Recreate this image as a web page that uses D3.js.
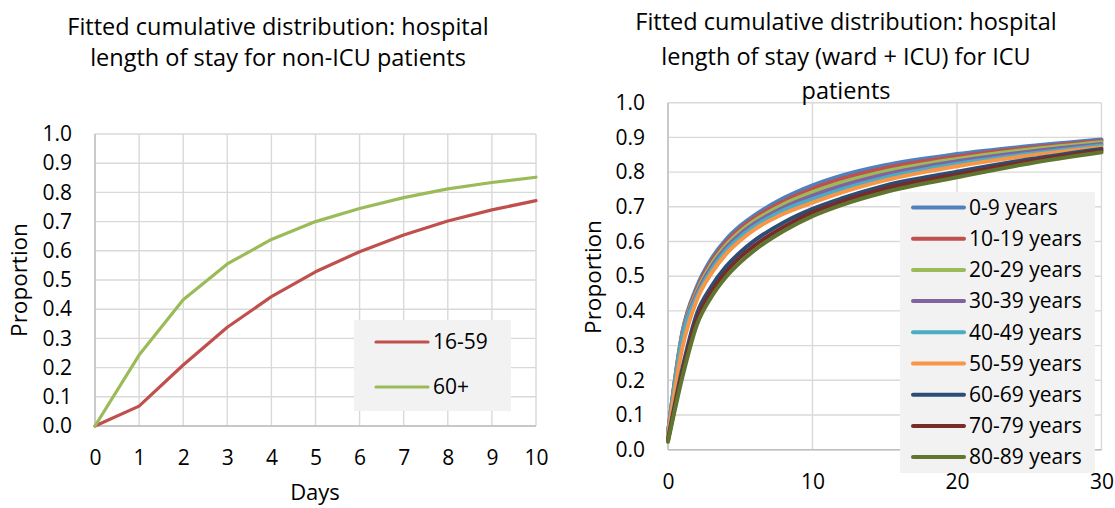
<!DOCTYPE html>
<html>
<head>
<meta charset="utf-8">
<script src="https://cdn.jsdelivr.net/npm/d3@7"></script>
<style>
    body { margin: 0; background: #fff; }
    svg text { font-family: "Open Sans", sans-serif; fill: #000; }
</style>
</head>
<body>
<svg id="chart" width="1115" height="508"></svg>
<script>
// Left chart: non-ICU length of stay
var leftDays = [0, 1, 2, 3, 4, 5, 6, 7, 8, 9, 10];
var leftGroups = ["16-59", "60+"];
var los16to59 = [0, 0.068, 0.209, 0.338, 0.443, 0.528, 0.597, 0.654, 0.702, 0.740, 0.772];
var los60plus = [0, 0.243, 0.432, 0.555, 0.639, 0.700, 0.745, 0.782, 0.812, 0.834, 0.852];
var leftColors = ["#c0504d", "#9bbb59"];

// Right chart: ICU patients, ward + ICU
var rightDays = [0, 1, 2, 3, 4, 5, 6, 8, 10, 12, 15, 20, 25, 30];
var rightXTicks = [0, 10, 20, 30];
var ageGroups = ["0-9 years", "10-19 years", "20-29 years", "30-39 years", "40-49 years",
                 "50-59 years", "60-69 years", "70-79 years", "80-89 years"];
var age0to9   = [0.050, 0.340, 0.470, 0.550, 0.605, 0.645, 0.676, 0.725, 0.762, 0.790, 0.820, 0.852, 0.875, 0.894];
var age10to19 = [0.048, 0.337, 0.463, 0.542, 0.597, 0.637, 0.668, 0.716, 0.752, 0.780, 0.811, 0.845, 0.870, 0.890];
var age20to29 = [0.046, 0.334, 0.456, 0.534, 0.589, 0.629, 0.660, 0.707, 0.742, 0.770, 0.802, 0.838, 0.865, 0.886];
var age30to39 = [0.044, 0.330, 0.449, 0.526, 0.581, 0.621, 0.652, 0.698, 0.732, 0.760, 0.793, 0.831, 0.859, 0.881];
var age40to49 = [0.042, 0.325, 0.442, 0.518, 0.573, 0.613, 0.644, 0.690, 0.722, 0.750, 0.784, 0.824, 0.853, 0.877];
var age50to59 = [0.040, 0.295, 0.432, 0.508, 0.563, 0.603, 0.635, 0.680, 0.712, 0.741, 0.776, 0.817, 0.848, 0.872];
var age60to69 = [0.030, 0.235, 0.392, 0.470, 0.527, 0.569, 0.603, 0.655, 0.694, 0.724, 0.761, 0.801, 0.837, 0.867];
var age70to79 = [0.027, 0.222, 0.376, 0.455, 0.512, 0.555, 0.589, 0.642, 0.684, 0.715, 0.752, 0.793, 0.831, 0.862];
var age80to89 = [0.023, 0.210, 0.360, 0.440, 0.497, 0.540, 0.575, 0.630, 0.673, 0.705, 0.742, 0.785, 0.825, 0.857];
var ageColors = ["#4f81bd", "#c0504d", "#9bbb59", "#8064a2", "#4bacc6",
                 "#f79646", "#2c4d75", "#772c2a", "#5f7530"];

var yTicks = [0, 0.1, 0.2, 0.3, 0.4, 0.5, 0.6, 0.7, 0.8, 0.9, 1.0];

var svg = d3.select("#chart");

function drawPanel(p) {
    var x = d3.scaleLinear().domain(p.xDomain).range(p.xRange);
    var y = d3.scaleLinear().domain([0, 1]).range(p.yRange);
    var g = svg.append("g");

    // grid
    g.selectAll(".hgrid").data(yTicks).enter().append("line")
        .attr("x1", p.xRange[0]).attr("x2", p.xRange[1])
        .attr("y1", d => y(d)).attr("y2", d => y(d))
        .attr("stroke", "#d9d9d9").attr("stroke-width", 1.4);
    g.selectAll(".vgrid").data(p.xTicks).enter().append("line")
        .attr("x1", d => x(d)).attr("x2", d => x(d))
        .attr("y1", p.yRange[0]).attr("y2", p.yRange[1])
        .attr("stroke", "#d9d9d9").attr("stroke-width", 1.4);

    // axis lines
    g.append("line")
        .attr("x1", p.xRange[0]).attr("x2", p.xRange[1])
        .attr("y1", p.yRange[0]).attr("y2", p.yRange[0])
        .attr("stroke", "#bfbfbf").attr("stroke-width", 1.4);
    g.append("line")
        .attr("x1", p.xRange[0]).attr("x2", p.xRange[0])
        .attr("y1", p.yRange[0]).attr("y2", p.yRange[1])
        .attr("stroke", "#bfbfbf").attr("stroke-width", 1.4);

    // tick labels
    var xAxis = g.append("g")
        .attr("transform", "translate(0," + p.yRange[0] + ")")
        .call(d3.axisBottom(x).tickValues(p.xTicks).tickSize(0).tickPadding(24).tickFormat(d3.format("d")));
    var yAxis = g.append("g")
        .attr("transform", "translate(" + p.xRange[0] + ",0)")
        .call(d3.axisLeft(y).tickValues(yTicks).tickSize(0).tickPadding(23).tickFormat(d3.format(".1f")));
    [xAxis, yAxis].forEach(function(a) {
        a.select(".domain").remove();
        a.selectAll("text").style("font-size", "21px").style("font-family", "Open Sans").attr("fill", "#000");
    });

    // series
    var line = d3.line()
        .x((d, i) => x(p.days[i]))
        .y(d => y(d))
        .curve(p.curve);
    g.selectAll(".series").data(p.series).enter().append("path")
        .attr("d", d => line(d))
        .attr("fill", "none")
        .attr("stroke", (d, i) => p.colors[i])
        .attr("stroke-width", p.lineWidth)
        .attr("stroke-linejoin", "round")
        .attr("stroke-linecap", "round");

    // legend
    var lg = g.append("g");
    lg.append("rect")
        .attr("x", p.legend.x).attr("y", p.legend.y)
        .attr("width", p.legend.w).attr("height", p.legend.h)
        .attr("fill", "#f2f2f2");
    var item = lg.selectAll(".item").data(p.names).enter().append("g")
        .attr("transform", (d, i) => "translate(0," + (p.legend.first + i * p.legend.step) + ")");
    item.append("line")
        .attr("x1", p.legend.lx1).attr("x2", p.legend.lx2)
        .attr("stroke", (d, i) => p.colors[i])
        .attr("stroke-width", p.lineWidth)
        .attr("stroke-linecap", "round");
    item.append("text")
        .attr("x", p.legend.tx)
        .attr("dy", ".35em")
        .style("font-size", "21px")
        .text(d => d);

    // titles
    g.selectAll(".title").data(p.title).enter().append("text")
        .attr("x", p.titleX)
        .attr("y", (d, i) => p.titleY[i])
        .attr("dy", ".35em")
        .attr("text-anchor", "middle")
        .style("font-size", "23.5px")
        .text(d => d);

    g.append("text")
        .attr("transform", "translate(" + p.yLabel[0] + "," + p.yLabel[1] + ") rotate(-90)")
        .attr("dy", ".35em")
        .attr("text-anchor", "middle")
        .style("font-size", "22.5px")
        .text("Proportion");

    if (p.xLabel) {
        g.append("text")
            .attr("x", p.xLabel[0]).attr("y", p.xLabel[1])
            .attr("dy", ".35em")
            .attr("text-anchor", "middle")
            .style("font-size", "22px")
            .text("Days");
    }
}

drawPanel({
    xDomain: [0, 10], xRange: [95, 536], yRange: [426, 134],
    xTicks: leftDays, days: leftDays,
    series: [los16to59, los60plus], names: leftGroups, colors: leftColors,
    curve: d3.curveLinear, lineWidth: 3.2,
    legend: {x: 354, y: 320, w: 157, h: 91, first: 342, step: 45, lx1: 376, lx2: 428, tx: 433},
    title: ["Fitted cumulative distribution: hospital", "length of stay for non-ICU patients"],
    titleX: 278, titleY: [27, 58],
    yLabel: [19, 280], xLabel: [315, 492]
});

drawPanel({
    xDomain: [0, 30], xRange: [668, 1101.5], yRange: [449.7, 102.7],
    xTicks: rightXTicks, days: rightDays,
    series: [age0to9, age10to19, age20to29, age30to39, age40to49,
             age50to59, age60to69, age70to79, age80to89],
    names: ageGroups, colors: ageColors,
    curve: d3.curveMonotoneX, lineWidth: 4,
    legend: {x: 900, y: 192, w: 195, h: 281, first: 207.5, step: 31.2, lx1: 913, lx2: 964, tx: 969},
    title: ["Fitted cumulative distribution: hospital", "length of stay (ward + ICU) for ICU", "patients"],
    titleX: 846, titleY: [22, 57, 91],
    yLabel: [593, 277]
});
</script>
</body>
</html>
